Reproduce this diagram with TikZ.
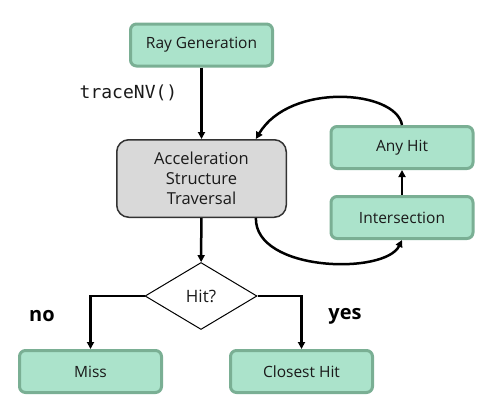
\documentclass[tikz,border=0pt]{standalone}
\usepackage{fontspec}
\setmainfont{Open Sans}
\setmonofont{DejaVu Sans Mono}
\usetikzlibrary{
    arrows.meta,
    shapes.geometric
}

\definecolor{shaderfill}{HTML}{ABE3CB}
\definecolor{shaderline}{HTML}{7AAF94}
\definecolor{travfill}{HTML}{D9D9D9}
\definecolor{inktext}{HTML}{1A1A1A}

\begin{document}
\begin{tikzpicture}[x=1pt,y=-1pt,
    shader/.style={draw=shaderline,fill=shaderfill,line width=3pt,rounded corners=6pt,
        minimum width=142pt,minimum height=42pt,inner sep=0pt,text=inktext,font=\fontsize{15.5}{18}\selectfont},
    flow/.style={line width=2.5pt,-{Triangle[length=7pt,width=7pt]}},
    answer/.style={font=\fontsize{20}{24}\selectfont\bfseries,text=black}
    ]
    \useasboundingbox (0,0) rectangle (487,410);
    \node[shader] (raygen) at (201.5,45) {Ray Generation};
    \node[draw=black!80,fill=travfill,line width=1.5pt,rounded corners=12pt,
        minimum width=169.5pt,minimum height=77.5pt,inner sep=0pt,align=center,
        text=inktext,font=\fontsize{16.5}{20}\selectfont] (traversal) at (201.5,178.5)
        {Acceleration\\Structure\\Traversal};
    \node[shader] (anyhit) at (402,147.5) {Any Hit};
    \node[shader] (isect) at (402,217.5) {Intersection};
    \node[diamond,draw,line width=1pt,fill=white,minimum width=112pt,minimum height=67pt,
        inner sep=0pt,text=inktext,font=\fontsize{17}{20}\selectfont] (hit) at (201,296) {Hit?};
    \node[shader] (miss) at (90.5,371.5) {Miss};
    \node[shader] (closest) at (301.5,371.5) {Closest Hit};
    \node[font=\ttfamily\fontsize{18}{20}\selectfont,text=inktext] (tracecall) at (128.5,93) {traceNV()};
    \node[answer] (nolabel) at (42,316) {no};
    \node[answer] (yeslabel) at (345,316) {yes};

    \draw[flow] (raygen) -- (traversal);
    \draw[flow] (traversal) -- (hit);
    \draw[flow] (isect) -- (anyhit);
    \draw[flow] (anyhit.north) .. controls (396,90) and (290,82) .. (traversal.36);
    \draw[flow] (traversal.-36) .. controls (255,272) and (385,275) .. (isect.south);
    \draw[flow] (hit.west) -| (miss.north);
    \draw[flow] (hit.east) -| (closest.north);
\end{tikzpicture}
\end{document}
